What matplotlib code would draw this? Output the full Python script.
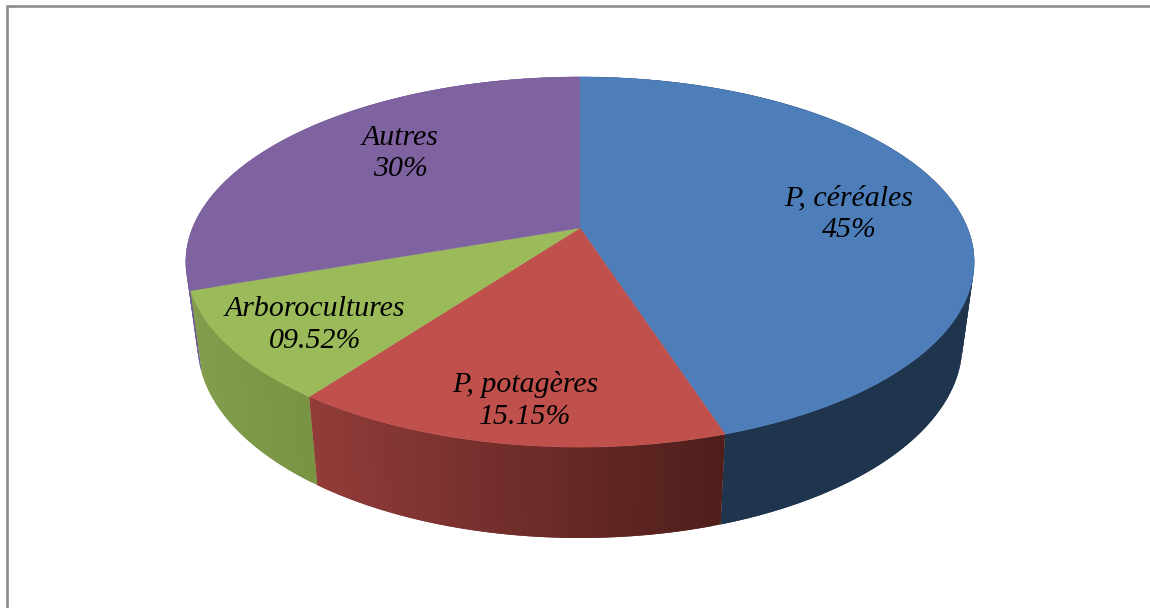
import numpy as np
import matplotlib
matplotlib.use("Agg")
import matplotlib.pyplot as plt
from matplotlib.patches import Polygon
from matplotlib.collections import PolyCollection

categories = ["P, céréales", "P, potagères", "Arborocultures", "Autres"]
values = [45.0, 15.15, 9.52, 30.33]
value_labels = ["45%", "15.15%", "09.52%", "30%"]

top_colors = ["#4D7EBA", "#BF504C", "#9BBA59", "#7F63A1"]
side_left = [(31, 52, 77), (146, 60, 57), (130, 158, 76), (110, 86, 150)]
side_right = [(31, 52, 77), (78, 30, 27), (120, 148, 66), (110, 86, 150)]
label_pos = [(849, 214.5), (525, 400.5), (315, 325), (400, 153.5)]

W, H = 1150, 608
fig = plt.figure(figsize=(W / 100, H / 100), dpi=100, facecolor="white")
ax = fig.add_axes([0, 0, 1, 1])
ax.set_xlim(0, W)
ax.set_ylim(H, 0)
ax.axis("off")

# Perspective camera for the disc
d, A, B = 5.44, 973.0, 2108.0
cx, cy_top, cy_bot = 580.0, 228.0, 309.0
bot_sx, bot_sy = 0.97, 1.045


def project(theta, bottom=False):
    x, y = np.sin(theta), np.cos(theta)
    sx = B * x / (d + y)
    sy = -A * y / (d + y)
    if bottom:
        return cx + bot_sx * sx, cy_bot + bot_sy * sy
    return cx + sx, cy_top + sy


fractions = np.array(values) / np.sum(values)
edges = np.concatenate([[0], np.cumsum(fractions)]) * 2 * np.pi

# Side wall, painted back to front with overlapping shaded bands
for i in [3, 0, 2, 1]:
    th = np.linspace(edges[i], edges[i + 1], max(int((edges[i + 1] - edges[i]) * 60), 3))
    tx, ty = project(th)
    bx, by = project(th, True)
    polys, cols = [], []
    xspan = (tx.min(), tx.max())
    for j in range(len(th) - 1):
        k2 = min(j + 2, len(th) - 1)
        polys.append([(tx[j], ty[j]), (tx[k2], ty[k2]), (bx[k2], by[k2]), (bx[j], by[j])])
        t = (0.5 * (tx[j] + tx[j + 1]) - xspan[0]) / max(xspan[1] - xspan[0], 1)
        cols.append(tuple((side_left[i][k] * (1 - t) + side_right[i][k] * t) / 255 for k in range(3)))
    ax.add_collection(PolyCollection(polys, facecolors=cols, edgecolors="none", zorder=2))

# Top face
for i in range(len(values)):
    th = np.linspace(edges[i], edges[i + 1], 200)
    tx, ty = project(th)
    pts = np.column_stack([np.r_[cx, tx], np.r_[cy_top, ty]])
    ax.add_patch(Polygon(pts, closed=True, facecolor=top_colors[i], edgecolor=top_colors[i],
                         linewidth=0.3, zorder=3))

# Labels
for cat, val, (lx, ly) in zip(categories, value_labels, label_pos):
    ax.text(lx, ly, f"{cat}\n{val}", ha="center", va="center", ma="center", style="italic",
            family="Liberation Serif", fontsize=21.5, color="black", linespacing=1.27, zorder=5)

# Chart area frame: only the top and left edges are in the crop
ax.plot([7, 7, W], [H, 6, 6], color="#8C8C8C", lw=1.9, solid_joinstyle="miter", zorder=6)

fig.savefig("out.png", dpi=100)
